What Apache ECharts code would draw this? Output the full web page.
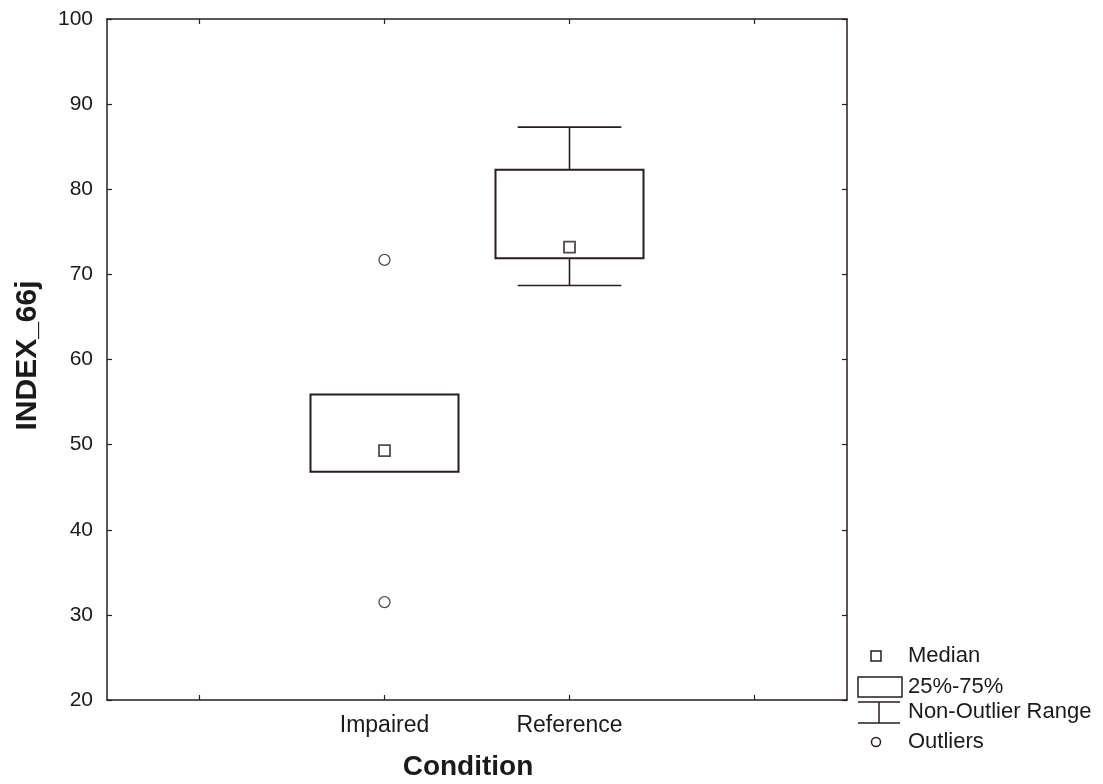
<!DOCTYPE html>
<html>
<head>
<meta charset="utf-8">
<script src="https://cdn.jsdelivr.net/npm/echarts@6/dist/echarts.min.js"></script>
<style>html,body{margin:0;padding:0;background:#fff;}#chart{width:1103px;height:784px;}</style>
</head>
<body>
<div id="chart"></div>
<script>
// ---- data ----
const axisCategories = ['', 'Impaired', 'Reference', ''];
const groups = ['Impaired', 'Reference'];
const medians = [49.3, 73.2];
const q1Values = [46.8, 71.9];
const q3Values = [55.9, 82.3];
const whiskerLow = [46.8, 68.7];
const whiskerHigh = [55.9, 87.3];
const outlierGroups = ['Impaired', 'Impaired'];
const outlierValues = [71.7, 31.5];
const yTicks = [20, 30, 40, 50, 60, 70, 80, 90, 100];
const legendLabels = ['Median', '25%-75%', 'Non-Outlier Range', 'Outliers'];

const INK = '#2a1c20';
const TXT = '#1a1a1a';
const FONT = 'Liberation Sans, Arial, sans-serif';

const boxData = groups.map((g, i) => [g, whiskerLow[i], q1Values[i], q3Values[i], whiskerHigh[i]]);
const medianData = groups.map((g, i) => [g, medians[i]]);
const outlierData = outlierGroups.map((g, i) => [g, outlierValues[i]]);

function renderBox(params, api) {
  const x = api.value(0);
  const lo = api.value(1), q1 = api.value(2), q3 = api.value(3), hi = api.value(4);
  const band = api.size([1, 0])[0];
  const bw = band * 0.8, cw = band * 0.56;
  const pLo = api.coord([x, lo]), pQ1 = api.coord([x, q1]);
  const pQ3 = api.coord([x, q3]), pHi = api.coord([x, hi]);
  const cx = pQ1[0];
  const ls = { stroke: INK, lineWidth: 1.6, fill: null };
  const children = [];
  if (hi > q3) {
    children.push({ type: 'line', shape: { x1: cx, y1: pQ3[1], x2: cx, y2: pHi[1] }, style: ls });
    children.push({ type: 'line', shape: { x1: cx - cw / 2, y1: pHi[1], x2: cx + cw / 2, y2: pHi[1] }, style: ls });
  }
  if (lo < q1) {
    children.push({ type: 'line', shape: { x1: cx, y1: pQ1[1], x2: cx, y2: pLo[1] }, style: ls });
    children.push({ type: 'line', shape: { x1: cx - cw / 2, y1: pLo[1], x2: cx + cw / 2, y2: pLo[1] }, style: ls });
  }
  children.push({
    type: 'rect',
    shape: { x: cx - bw / 2, y: pQ3[1], width: bw, height: pQ1[1] - pQ3[1] },
    style: { stroke: INK, lineWidth: 2, fill: 'rgba(0,0,0,0)' }
  });
  return { type: 'group', children };
}

const chart = echarts.init(document.getElementById('chart'), null, { renderer: 'canvas' });

const lx = 876; // legend symbol centre x
const legendY = [656, 687, 712, 742];
const legendGraphic = [
  { type: 'rect', shape: { x: lx - 5, y: legendY[0] - 5, width: 10, height: 10 }, style: { stroke: INK, lineWidth: 1.5, fill: '#fff' } },
  { type: 'rect', shape: { x: 858, y: legendY[1] - 10, width: 44, height: 20 }, style: { stroke: INK, lineWidth: 1.5, fill: '#fff' } },
  { type: 'line', shape: { x1: 858, y1: legendY[2] - 10, x2: 900, y2: legendY[2] - 10 }, style: { stroke: INK, lineWidth: 1.5 } },
  { type: 'line', shape: { x1: 858, y1: legendY[2] + 11, x2: 900, y2: legendY[2] + 11 }, style: { stroke: INK, lineWidth: 1.5 } },
  { type: 'line', shape: { x1: 879, y1: legendY[2] - 10, x2: 879, y2: legendY[2] + 11 }, style: { stroke: INK, lineWidth: 1.5 } },
  { type: 'circle', shape: { cx: lx, cy: legendY[3], r: 4.5 }, style: { stroke: INK, lineWidth: 1.5, fill: '#fff' } }
].concat(legendLabels.map((t, i) => ({
  type: 'text', x: 908, y: legendY[i],
  style: { text: t, fill: TXT, font: '22px ' + FONT, verticalAlign: 'middle', align: 'left' }
})));

chart.setOption({
  animation: false,
  backgroundColor: '#fff',
  grid: { left: 107, right: 256, top: 19, bottom: 84, containLabel: false, outerBoundsMode: 'none' },
  xAxis: [
    {
      type: 'category', data: axisCategories, position: 'bottom', boundaryGap: true,
      axisLine: { show: true, lineStyle: { color: INK, width: 1.5 } },
      axisTick: { show: true, inside: true, length: 5, alignWithLabel: true, lineStyle: { color: INK, width: 1.2 } },
      axisLabel: { show: true, color: TXT, fontSize: 23, fontFamily: FONT, margin: 14, interval: 0 },
      splitLine: { show: false },
      name: 'Condition', nameLocation: 'middle', nameGap: 53,
      nameTextStyle: { color: TXT, fontSize: 28, fontFamily: FONT, fontWeight: 'bold', padding: [0, 18, 0, 0] }
    },
    {
      type: 'category', data: axisCategories, position: 'top', boundaryGap: true,
      axisLine: { show: true, lineStyle: { color: INK, width: 1.5 } },
      axisTick: { show: true, inside: true, length: 5, alignWithLabel: true, lineStyle: { color: INK, width: 1.2 } },
      axisLabel: { show: false }, splitLine: { show: false }
    }
  ],
  yAxis: [
    {
      type: 'value', min: 20, max: 100, interval: 10, position: 'left',
      axisLine: { show: true, lineStyle: { color: INK, width: 1.5 } },
      axisTick: { show: true, inside: true, length: 5, lineStyle: { color: INK, width: 1.2 } },
      axisLabel: { color: TXT, fontSize: 21, fontFamily: FONT, margin: 14,
        formatter: v => (yTicks.indexOf(v) >= 0 ? String(v) : '') },
      splitLine: { show: false },
      name: 'INDEX_66j', nameLocation: 'middle', nameGap: 64,
      nameTextStyle: { color: TXT, fontSize: 30, fontFamily: FONT, fontWeight: 'bold', padding: [0, 0, 0, 8] }
    },
    {
      type: 'value', min: 20, max: 100, interval: 10, position: 'right',
      axisLine: { show: true, lineStyle: { color: INK, width: 1.5 } },
      axisTick: { show: true, inside: true, length: 5, lineStyle: { color: INK, width: 1.2 } },
      axisLabel: { show: false }, splitLine: { show: false }
    }
  ],
  series: [
    {
      type: 'custom', name: 'Box', xAxisIndex: 0, yAxisIndex: 0,
      renderItem: renderBox, data: boxData, encode: { x: 0, y: [1, 2, 3, 4] }, z: 2
    },
    {
      type: 'scatter', name: 'Median', xAxisIndex: 0, yAxisIndex: 0, data: medianData,
      symbol: 'rect', symbolSize: 11,
      itemStyle: { color: '#fff', borderColor: INK, borderWidth: 1.8 }, z: 3
    },
    {
      type: 'scatter', name: 'Outliers', xAxisIndex: 0, yAxisIndex: 0, data: outlierData,
      symbol: 'circle', symbolSize: 11,
      itemStyle: { color: '#fff', borderColor: INK, borderWidth: 1.3 }, z: 3
    }
  ],
  graphic: legendGraphic
});
</script>
</body>
</html>
